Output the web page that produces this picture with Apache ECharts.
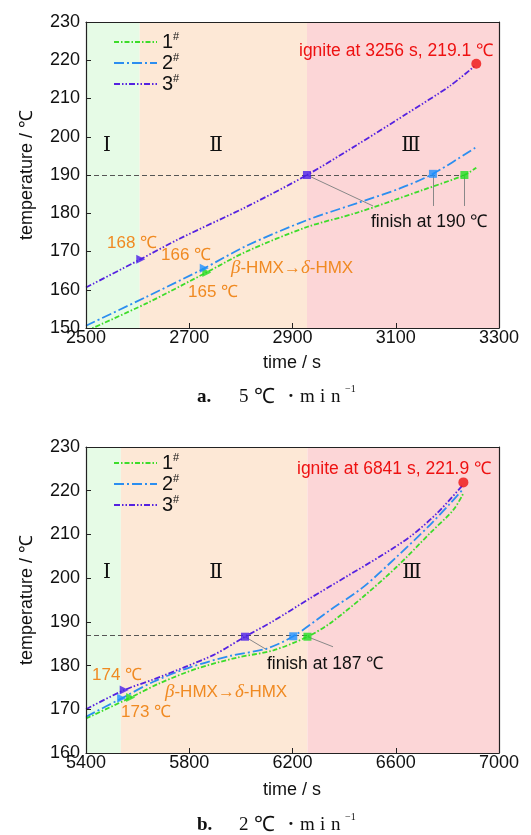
<!DOCTYPE html>
<html><head><meta charset="utf-8">
<script src="https://cdn.jsdelivr.net/npm/echarts@6/dist/echarts.min.js"></script>
<style>html,body{margin:0;padding:0;background:#fff}#c{width:531px;height:835px}</style>
</head><body><div id="c"></div>
<script>
// ---------- data: panel a (5 ℃/min) ----------
const aX = {min: 2500, max: 3300, interval: 200};
const aY = {min: 150, max: 230, interval: 10};
const a1 = [[2500,149.2],[2618,156.5],[2733,164.5],[2811,170.0],[2928,176.4],[3024,180.1],[3153,186.1],[3233,190.0],[3256,191.9]];
const a2 = [[2500,150.6],[2618,158.2],[2729,165.6],[2811,171.5],[2928,178.2],[3024,182.6],[3108,186.5],[3172,190.3],[3257,197.4]];
const a3 = [[2500,160.6],[2606,168.0],[2682,173.4],[2811,181.7],[2928,190.0],[3024,197.8],[3121,206.0],[3205,213.3],[3252,218.4]];
const aOnset = [[2734,164.5],[2729,165.6],[2606,168.0]];     // samples 1#,2#,3#
const aFinish = [[3233,190.0],[3172,190.3],[2928,190.0]];
const aIgnite = [[3256,219.1]];
const aRegions = [2500, 2604, 2928, 3300];
const aRefLine = [[2500,190],[3233,190]];
const aLeaders = [[[2928,190],[3056,181.9]],[[3172,190.3],[3172,181.9]],[[3233,190],[3233,181.9]]];

// ---------- data: panel b (2 ℃/min) ----------
const bX = {min: 5400, max: 7000, interval: 400};
const bY = {min: 160, max: 230, interval: 10};
const b1 = [[5400,167.9],[5573,172.7],[5687,176.0],[5829,179.3],[5984,181.8],[6126,183.5],[6258,186.6],[6346,189.7],[6475,195.8],[6604,202.6],[6733,210.3],[6823,215.6],[6862,219.4]];
const b2 = [[5400,168.3],[5538,172.5],[5661,176.3],[5803,179.6],[5958,182.2],[6100,183.9],[6203,186.7],[6346,192.7],[6475,198.0],[6604,204.9],[6733,212.2],[6811,217.1],[6860,220.3]];
const b3 = [[5400,170.0],[5548,174.4],[5660,176.8],[5780,179.6],[5900,182.6],[6016,186.6],[6126,190.2],[6268,195.4],[6410,200.4],[6540,205.0],[6656,209.5],[6759,214.8],[6860,221.3]];
const bOnset = [[5573,172.7],[5538,172.5],[5548,174.4]];
const bFinish = [[6258,186.6],[6203,186.7],[6016,186.6]];
const bIgnite = [[6862,221.9]];
const bRegions = [5400, 5535, 6258, 7000];
const bRefLine = [[5400,187],[6258,187]];
const bLeaders = [[[6016,186.6],[6101,183.6]],[[6258,186.6],[6357,184.3]]];

const names = ['1#','2#','3#'];

// ---------- styles ----------
const colors = ['#3ddc2a', '#2b8ef0', '#5522e0'];
const markColors = ['#22dd22', '#1e90ff', '#4a1ee8'];
const dashes = [[5,2,1.5,2], [10,3,2,3], [6,2,1.5,2,1.5,2]];
const regionColors = ['#e6fbe6', '#fde8d6', '#fcd6d7'];
const FONT = 'Liberation Sans, Arial, sans-serif';
const SERIF = 'Liberation Serif, Times New Roman, serif';
const orange = '#f08a22';

const grids = [
  {left: 86, right: 32, top: 22, height: 306},
  {left: 86, right: 32, top: 447, height: 306}
];

function mkAxes(g, xs, ys) {
  const x = [{
    type:'value', gridIndex:g, min:xs.min, max:xs.max, interval:xs.interval, z:10,
    axisLine:{show:true, onZero:false, lineStyle:{color:'#222', width:1.2}},
    axisTick:{show:true, inside:true, length:5, lineStyle:{color:'#222'}},
    axisLabel:{margin:1, color:'#111', fontSize:18, fontFamily:FONT, formatter: v => String(v)},
    splitLine:{show:false}
  },{
    type:'value', gridIndex:g, position:'top', min:xs.min, max:xs.max, z:10,
    axisLine:{show:true, onZero:false, lineStyle:{color:'#222', width:1.2}},
    axisTick:{show:false}, axisLabel:{show:false}, splitLine:{show:false}
  }];
  const y = [{
    type:'value', gridIndex:g, min:ys.min, max:ys.max, interval:ys.interval, z:10,
    axisLine:{show:true, onZero:false, lineStyle:{color:'#222', width:1.2}},
    axisTick:{show:true, inside:true, length:5, lineStyle:{color:'#222'}},
    axisLabel:{margin:6, color:'#111', fontSize:18, fontFamily:FONT, formatter: v => String(v)},
    splitLine:{show:false}
  },{
    type:'value', gridIndex:g, position:'right', min:ys.min, max:ys.max, z:10,
    axisLine:{show:true, onZero:false, lineStyle:{color:'#222', width:1.2}},
    axisTick:{show:false}, axisLabel:{show:false}, splitLine:{show:false}
  }];
  return {x, y};
}
const axA = mkAxes(0, aX, aY), axB = mkAxes(1, bX, bY);
const xAxis = [axA.x[0], axA.x[1], axB.x[0], axB.x[1]];
const yAxis = [axA.y[0], axA.y[1], axB.y[0], axB.y[1]];

function panelSeries(ai, curves, onset, finish, ignite, regions, refLine, leaders) {
  const s = [];
  const areas = [];
  for (let i = 0; i < regions.length - 1; i++) {
    areas.push([{xAxis: regions[i], itemStyle:{color: regionColors[i]}}, {xAxis: regions[i+1]}]);
  }
  s.push({type:'line', data:[], xAxisIndex:ai, yAxisIndex:ai, silent:true, z:1,
    markArea:{silent:true, data: areas}});
  curves.forEach((d, i) => {
    s.push({type:'line', name:names[i], data:d, xAxisIndex:ai, yAxisIndex:ai, symbol:'none',
      smooth:0.3, z:3, lineStyle:{color:colors[i], width:1.8, type:dashes[i]}, itemStyle:{color:colors[i]}});
  });
  const ml = [[{coord: refLine[0], lineStyle:{color:'#555', type:[5,3], width:1}}, {coord: refLine[1]}]];
  leaders.forEach(l => ml.push([{coord:l[0], lineStyle:{color:'#888', type:'solid', width:1}}, {coord:l[1]}]));
  s.push({type:'scatter', data:finish, xAxisIndex:ai, yAxisIndex:ai, symbol:'rect', symbolSize:8, z:5,
    itemStyle:{color: p => markColors[p.dataIndex]},
    markLine:{silent:true, symbol:'none', label:{show:false}, z:2, data: ml}});
  s.push({type:'scatter', data:onset, xAxisIndex:ai, yAxisIndex:ai, symbol:'triangle', symbolRotate:-90, symbolSize:9, z:5,
    itemStyle:{color: p => markColors[p.dataIndex]}});
  s.push({type:'scatter', data:ignite, xAxisIndex:ai, yAxisIndex:ai, symbol:'circle', symbolSize:10, z:6,
    itemStyle:{color:'#ee1111'}});
  return s;
}

const series = [].concat(
  panelSeries(0, [a1,a2,a3], aOnset, aFinish, aIgnite, aRegions, aRefLine, aLeaders),
  panelSeries(2, [b1,b2,b3], bOnset, bFinish, bIgnite, bRegions, bRefLine, bLeaders)
);

const legendBase = {
  orient:'vertical', itemWidth:43, itemHeight:10, itemGap:0, padding:0, data:names,
  itemStyle:{opacity:0, borderWidth:0},
  formatter: n => '{n|' + n[0] + '}{s|#}',
  textStyle:{color:'#111', fontFamily:FONT, rich:{
    n:{fontSize:20, lineHeight:22, fontFamily:FONT, color:'#111'},
    s:{fontSize:11, lineHeight:11, verticalAlign:'top', fontFamily:FONT, color:'#111'}
  }}
};
const legend = [
  Object.assign({}, legendBase, {left:113, top:31}),
  Object.assign({}, legendBase, {left:113, top:452})
];

function txt(x, y, text, opt) {
  return Object.assign({type:'text', x, y, z:100, style:Object.assign({text, fill:'#111',
    font:'17px ' + FONT, align:'left', verticalAlign:'middle'}, opt || {})});
}
const greek = {rich:{
  g:{fontFamily:SERIF, fontStyle:'italic', fontSize:19, fill:orange},
  t:{fontFamily:FONT, fontSize:17, fill:orange}
}};
const roman = {font:'20px DejaVu Serif, ' + SERIF, align:'center'};

function caption(y, letter, rate) {
  return [
    txt(197, y, letter, {font:'bold 19px ' + SERIF}),
    txt(239, y, rate, {font:'19px ' + SERIF}),
    txt(254, y, '℃', {font:'21px ' + SERIF}),
    txt(291, y, '·', {font:'bold 19px ' + SERIF, align:'center'}),
    txt(300, y, 'm', {font:'19px ' + SERIF}),
    txt(320, y, 'i', {font:'19px ' + SERIF}),
    txt(331, y, 'n', {font:'19px ' + SERIF}),
    txt(345, y - 8, '−1', {font:'10px ' + SERIF})
  ];
}

const graphic = [].concat([
  // panel a
  txt(292, 363, 'time / s', {align:'center', font:'18px ' + FONT}),
  Object.assign(txt(27, 175, 'temperature / ℃', {align:'center', font:'18px ' + FONT}), {rotation:Math.PI/2}),
  txt(107, 146, 'Ⅰ', roman), txt(216, 146, 'Ⅱ', roman), txt(411, 146, 'Ⅲ', roman),
  txt(299, 51, 'ignite at 3256 s, 219.1 ℃', {fill:'#ee1111', font:'17.5px ' + FONT}),
  txt(371, 222, 'finish at 190 ℃', {font:'17.5px ' + FONT}),
  txt(107, 243, '168 ℃', {fill:orange}),
  txt(161, 255, '166 ℃', {fill:orange}),
  txt(188, 292, '165 ℃', {fill:orange}),
  txt(231, 268, '{g|β}{t|-HMX→}{g|δ}{t|-HMX}', greek),
  // panel b
  txt(292, 790, 'time / s', {align:'center', font:'18px ' + FONT}),
  Object.assign(txt(27, 600, 'temperature / ℃', {align:'center', font:'18px ' + FONT}), {rotation:Math.PI/2}),
  txt(107, 573, 'Ⅰ', roman), txt(216, 573, 'Ⅱ', roman), txt(412, 573, 'Ⅲ', roman),
  txt(297, 469, 'ignite at 6841 s, 221.9 ℃', {fill:'#ee1111', font:'17.5px ' + FONT}),
  txt(267, 664, 'finish at 187 ℃', {font:'17.5px ' + FONT}),
  txt(92, 675, '174 ℃', {fill:orange}),
  txt(121, 712, '173 ℃', {fill:orange}),
  txt(165, 692, '{g|β}{t|-HMX→}{g|δ}{t|-HMX}', greek)
], caption(397, 'a.', '5'), caption(825, 'b.', '2'));

const chart = echarts.init(document.getElementById('c'), null, {renderer:'canvas'});
chart.setOption({
  animation:false,
  backgroundColor:'#fff',
  grid: grids,
  xAxis, yAxis, legend, series, graphic
});
</script></body></html>
